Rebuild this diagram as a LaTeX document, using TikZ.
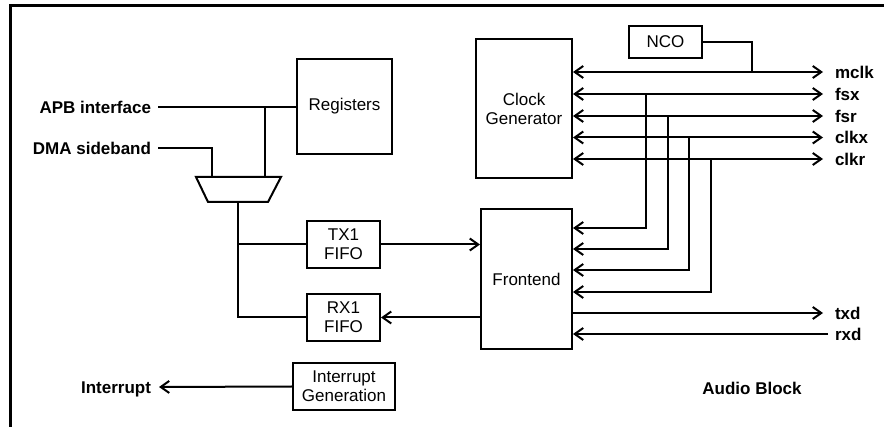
\documentclass[tikz,border=0pt]{standalone}
\usepackage{fontspec}
\setmainfont{Liberation Sans}
\usetikzlibrary{arrows.meta}
\begin{document}
\begin{tikzpicture}[x=1pt,y=1pt,
  every node/.style={font=\fontsize{17}{19}\selectfont},
  blk/.style={draw,line width=2pt,inner sep=0pt,align=center},
  lbl/.style={font=\fontsize{17}{19}\selectfont\bfseries,inner sep=0pt,text height=12.2pt,text depth=0pt},
  conn/.style={line width=2pt},
  >={Straight Barb[length=8.5pt,width=12pt,line width=2pt]}
]
\useasboundingbox (0,0) rectangle (884,-427);
% frame
\draw[line width=3pt] (10,-427) -- (10,-6) -- (884,-6);

% blocks
\node[blk,minimum width=95pt,minimum height=95pt] (reg) at (344.5,-106.5) {Registers};
\node[blk,minimum width=96pt,minimum height=139pt] (clk) at (524,-108.5) {Clock\\Generator};
\node[blk,minimum width=73pt,minimum height=32pt] (nco) at (665.5,-42) {NCO};
\node[blk,minimum width=91pt,minimum height=140pt] (fe) at (526.5,-279) {Frontend};
\node[blk,minimum width=73pt,minimum height=47pt] (tx) at (343.5,-244.5) {TX1\\FIFO};
\node[blk,minimum width=73pt,minimum height=47pt] (rx) at (343.5,-317.5) {RX1\\FIFO};
\node[blk,minimum width=102pt,minimum height=47pt] (ig) at (344,-386.5) {Interrupt\\Generation};

% mux
\coordinate (mtl) at (196,-177);
\coordinate (mtr) at (281,-177);
\coordinate (mbr) at (268,-202);
\coordinate (mbl) at (208,-202);
\draw[conn,line join=miter] (mtl) -- (mtr) -- (mbr) -- (mbl) -- cycle;
\coordinate (muxa) at (265,-177);
\coordinate (muxb) at (212,-177);
\coordinate (muxo) at (238,-202);
\coordinate (j1) at (265,-107);
\coordinate (j2) at (238,-244.5);
\coordinate (j3) at (238,-317.5);

% left labels
\node[lbl,anchor=east,outer xsep=7pt] (apb) at (158,-107) {APB interface};
\node[lbl,anchor=east,outer xsep=7pt] (dma) at (158,-148) {DMA sideband};
\node[lbl,anchor=east,outer xsep=8pt] (intr) at (159,-387) {Interrupt};

% right labels
\node[lbl,anchor=west,outer xsep=12pt] (mclk) at (823,-72) {mclk};
\node[lbl,anchor=west,outer xsep=12pt] (fsx) at (823,-94) {fsx};
\node[lbl,anchor=west,outer xsep=12pt] (fsr) at (823,-116) {fsr};
\node[lbl,anchor=west,outer xsep=12pt] (clkx) at (823,-137.5) {clkx};
\node[lbl,anchor=west,outer xsep=12pt] (clkr) at (823,-159) {clkr};
\node[lbl,anchor=west,outer xsep=12pt] (txd) at (823,-313) {txd};
\node[lbl,anchor=west,outer xsep=7pt] (rxd) at (828,-334) {rxd};
\node[lbl,anchor=center] (ab) at (752,-388) {Audio Block};

% left side connectors
\draw[conn] (apb.east) -- (reg.west |- apb.east);
\draw[conn] (j1) -- (muxa);
\draw[conn] (dma.east) -| (muxb);
\draw[conn] (muxo) -- (j3) -- (rx.west);
\draw[conn] (j2) -- (tx.west);
\draw[conn,->] (tx.east) -- (fe.west |- tx.east);
\draw[conn,->] (fe.west |- rx.east) -- (rx.east);
\draw[conn,->] (ig.west) -- (intr.east);

% clock signals
\coordinate (ncoj) at (752,-72);
\draw[conn] (nco.east) -| (ncoj);
\draw[conn,<->] (clk.east |- mclk.west) -- (mclk.west);
\draw[conn,<->] (clk.east |- fsx.west) -- (fsx.west);
\draw[conn,<->] (clk.east |- fsr.west) -- (fsr.west);
\draw[conn,<->] (clk.east |- clkx.west) -- (clkx.west);
\draw[conn,<->] (clk.east |- clkr.west) -- (clkr.west);

\coordinate (v1) at (646,-94);
\coordinate (v2) at (668,-116);
\coordinate (v3) at (689,-137.5);
\coordinate (v4) at (711,-159);
\draw[conn,->] (v1) |- ([yshift=51pt]fe.east);
\draw[conn,->] (v2) |- ([yshift=30pt]fe.east);
\draw[conn,->] (v3) |- ([yshift=9pt]fe.east);
\draw[conn,->] (v4) |- ([yshift=-13pt]fe.east);

\draw[conn,->] (fe.east |- txd.west) -- (txd.west);
\draw[conn,->] (rxd.west) -- (fe.east |- rxd.west);
\end{tikzpicture}
\end{document}
